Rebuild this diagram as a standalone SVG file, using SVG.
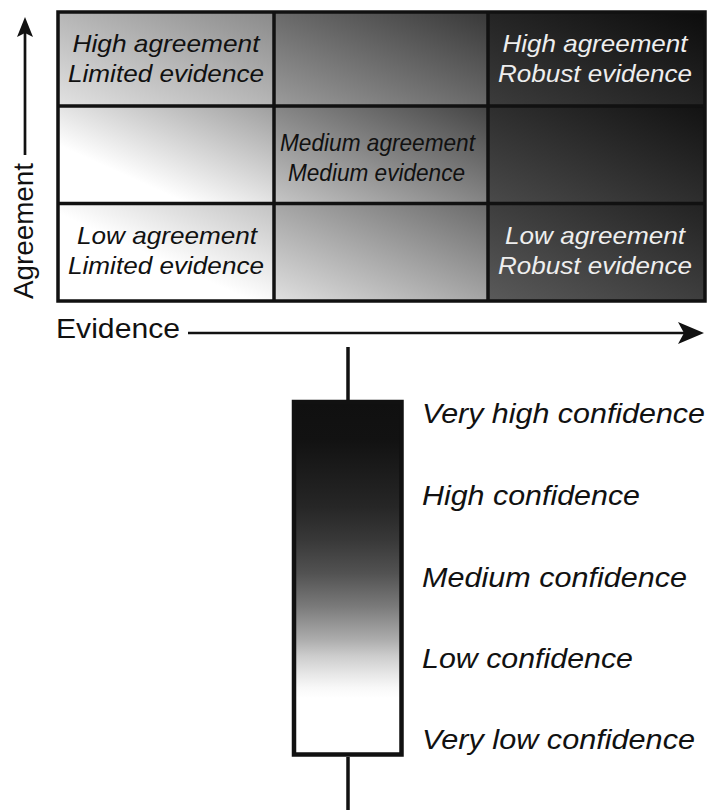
<svg xmlns="http://www.w3.org/2000/svg" width="709" height="810" viewBox="0 0 709 810">
<style>
.lbl{font-family:"Liberation Sans",Arial,sans-serif;font-style:italic;font-size:24px;text-anchor:middle}
.dk{fill:#111}
.lt{fill:#eeeeee}
.conf{font-family:"Liberation Sans",Arial,sans-serif;font-style:italic;font-size:27px;fill:#111}
.axis{font-family:"Liberation Sans",Arial,sans-serif;fill:#111}
.grid{fill:none;stroke:#111;stroke-width:3.5}
.conn{stroke:#111;fill:none}
</style>
<defs>
<linearGradient id="gTL" x1="0" y1="1" x2="1" y2="0"><stop offset="0" stop-color="#e2e2e2"/><stop offset="1" stop-color="#8a8a8a"/></linearGradient>
<linearGradient id="gTM" x1="0" y1="1" x2="1" y2="0"><stop offset="0" stop-color="#9c9c9c"/><stop offset="1" stop-color="#383838"/></linearGradient>
<linearGradient id="gTR" x1="0" y1="1" x2="1" y2="0"><stop offset="0" stop-color="#3c3c3c"/><stop offset="1" stop-color="#0c0c0c"/></linearGradient>
<linearGradient id="gML" x1="0" y1="1" x2="1" y2="0"><stop offset="0" stop-color="#ffffff"/><stop offset="0.3" stop-color="#ffffff"/><stop offset="1" stop-color="#9e9e9e"/></linearGradient>
<linearGradient id="gMM" x1="0" y1="1" x2="1" y2="0"><stop offset="0" stop-color="#c6c6c6"/><stop offset="1" stop-color="#444444"/></linearGradient>
<linearGradient id="gMR" x1="0" y1="1" x2="1" y2="0"><stop offset="0" stop-color="#4a4a4a"/><stop offset="1" stop-color="#121212"/></linearGradient>
<linearGradient id="gBL" x1="0" y1="1" x2="1" y2="0"><stop offset="0" stop-color="#ffffff"/><stop offset="0.45" stop-color="#ffffff"/><stop offset="1" stop-color="#c2c2c2"/></linearGradient>
<linearGradient id="gBM" x1="0" y1="1" x2="1" y2="0"><stop offset="0" stop-color="#e0e0e0"/><stop offset="1" stop-color="#6a6a6a"/></linearGradient>
<linearGradient id="gBR" x1="0" y1="1" x2="1" y2="0"><stop offset="0" stop-color="#5a5a5a"/><stop offset="1" stop-color="#222222"/></linearGradient>
<linearGradient id="gBar" x1="0" y1="0" x2="0" y2="1">
<stop offset="0" stop-color="#101010"/>
<stop offset="0.108" stop-color="#121212"/>
<stop offset="0.297" stop-color="#262626"/>
<stop offset="0.39" stop-color="#383838"/>
<stop offset="0.486" stop-color="#525252"/>
<stop offset="0.58" stop-color="#7a7a7a"/>
<stop offset="0.675" stop-color="#adadad"/>
<stop offset="0.72" stop-color="#cccccc"/>
<stop offset="0.77" stop-color="#e6e6e6"/>
<stop offset="0.81" stop-color="#f8f8f8"/>
<stop offset="0.84" stop-color="#ffffff"/>
<stop offset="1" stop-color="#ffffff"/>
</linearGradient>
</defs>

<g id="cell-high-limited">
<rect x="58" y="12" width="216" height="94" fill="url(#gTL)"/>
<text class="lbl dk" x="166" y="52" textLength="187" lengthAdjust="spacingAndGlyphs">High agreement</text>
<text class="lbl dk" x="166" y="82" textLength="196" lengthAdjust="spacingAndGlyphs">Limited evidence</text>
</g>
<g id="cell-high-medium">
<rect x="274" y="12" width="214" height="94" fill="url(#gTM)"/>
</g>
<g id="cell-high-robust">
<rect x="488" y="12" width="217" height="94" fill="url(#gTR)"/>
<text class="lbl lt" x="595" y="52" textLength="185" lengthAdjust="spacingAndGlyphs">High agreement</text>
<text class="lbl lt" x="595" y="82" textLength="194" lengthAdjust="spacingAndGlyphs">Robust evidence</text>
</g>
<g id="cell-medium-limited">
<rect x="58" y="106" width="216" height="97.5" fill="url(#gML)"/>
</g>
<g id="cell-medium-medium">
<rect x="274" y="106" width="214" height="97.5" fill="url(#gMM)"/>
<text class="lbl dk" x="377.5" y="151" textLength="195" lengthAdjust="spacingAndGlyphs">Medium agreement</text>
<text class="lbl dk" x="376.5" y="181" textLength="177" lengthAdjust="spacingAndGlyphs">Medium evidence</text>
</g>
<g id="cell-medium-robust">
<rect x="488" y="106" width="217" height="97.5" fill="url(#gMR)"/>
</g>
<g id="cell-low-limited">
<rect x="58" y="203.5" width="216" height="97.5" fill="url(#gBL)"/>
<text class="lbl dk" x="167" y="244" textLength="180" lengthAdjust="spacingAndGlyphs">Low agreement</text>
<text class="lbl dk" x="166" y="274" textLength="196" lengthAdjust="spacingAndGlyphs">Limited evidence</text>
</g>
<g id="cell-low-medium">
<rect x="274" y="203.5" width="214" height="97.5" fill="url(#gBM)"/>
</g>
<g id="cell-low-robust">
<rect x="488" y="203.5" width="217" height="97.5" fill="url(#gBR)"/>
<text class="lbl lt" x="595" y="244" textLength="180" lengthAdjust="spacingAndGlyphs">Low agreement</text>
<text class="lbl lt" x="595" y="274" textLength="194" lengthAdjust="spacingAndGlyphs">Robust evidence</text>
</g>

<g id="grid-lines">
<rect class="grid" x="58" y="12" width="647" height="289"/>
<line class="grid" x1="274" y1="12" x2="274" y2="301"/>
<line class="grid" x1="488" y1="12" x2="488" y2="301"/>
<line class="grid" x1="58" y1="106" x2="705" y2="106"/>
<line class="grid" x1="58" y1="203.5" x2="705" y2="203.5"/>
</g>

<g id="axis-agreement">
<text class="axis" font-size="28" transform="translate(33,299) rotate(-90)" textLength="136" lengthAdjust="spacingAndGlyphs">Agreement</text>
</g>
<g id="axis-evidence">
<text class="axis" font-size="28" x="56" y="338" textLength="124" lengthAdjust="spacingAndGlyphs">Evidence</text>
</g>

<g id="confidence-bar">
<rect x="294" y="402" width="107.5" height="352.5" fill="url(#gBar)" stroke="#111" stroke-width="4.5"/>
<text class="conf" x="422" y="423" textLength="283" lengthAdjust="spacingAndGlyphs">Very high confidence</text>
<text class="conf" x="422" y="505" textLength="218" lengthAdjust="spacingAndGlyphs">High confidence</text>
<text class="conf" x="422" y="587" textLength="265" lengthAdjust="spacingAndGlyphs">Medium confidence</text>
<text class="conf" x="422" y="668" textLength="211" lengthAdjust="spacingAndGlyphs">Low confidence</text>
<text class="conf" x="422" y="749" textLength="273" lengthAdjust="spacingAndGlyphs">Very low confidence</text>
</g>

<g id="connectors">
<line class="conn" x1="25" y1="155" x2="25" y2="32" stroke-width="2.7"/>
<path d="M25,17 L33,37 L25,33 L17,37 Z" fill="#111"/>
<line class="conn" x1="188" y1="333" x2="688" y2="333" stroke-width="2.7"/>
<path d="M704,333 L678,322 L684,333 L678,344 Z" fill="#111"/>
<line class="conn" x1="348" y1="347" x2="348" y2="400" stroke-width="3.5"/>
<line class="conn" x1="348" y1="757" x2="348" y2="810" stroke-width="3.5"/>
</g>
</svg>
